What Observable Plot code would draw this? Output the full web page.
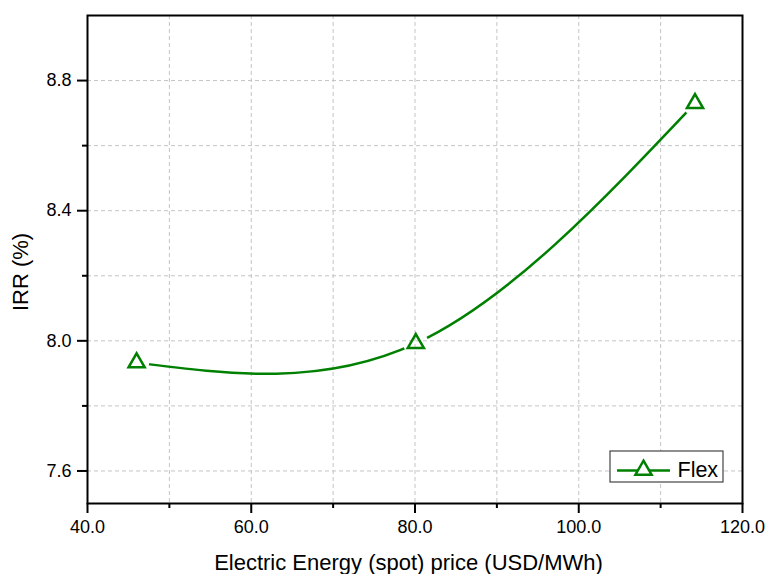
<!DOCTYPE html>
<html>
<head>
<meta charset="utf-8">
<script src="https://cdn.jsdelivr.net/npm/d3@7"></script>
<script src="https://cdn.jsdelivr.net/npm/@observablehq/plot@0.6"></script>
<style>
  html, body { margin: 0; padding: 0; background: #fff; }
  #chart { position: relative; width: 767px; height: 574px; }
</style>
</head>
<body>
<div id="chart"></div>
<script>
// ---- data ----
const seriesName = "Flex";
const price = [46.0, 80.1, 114.2];          // USD/MWh
const irr = [7.933, 7.992, 8.730];          // %

// ---- ticks ----
const xMajorTicks = [40, 60, 80, 100, 120];
const xMinorTicks = [50, 70, 90, 110];
const xGridTicks = [50, 60, 70, 80, 90, 100, 110];
const yMajorTicks = [7.6, 8.0, 8.4, 8.8];
const yMinorTicks = [7.8, 8.2, 8.6];
const yGridTicks = [7.6, 7.8, 8.0, 8.2, 8.4, 8.6, 8.8];

const xLabel = "Electric Energy (spot) price (USD/MWh)";
const yLabel = "IRR (%)";

const data = price.map((p, i) => ({price: p, irr: irr[i]}));

const green = "#008000";
const font = "'Liberation Sans', Arial, Helvetica, sans-serif";

const plot = Plot.plot({
  width: 767,
  height: 574,
  marginLeft: 87,
  marginRight: 25,
  marginTop: 15,
  marginBottom: 71,
  style: {fontFamily: font, fontSize: "18px", color: "#000", background: "#fff", overflow: "visible"},
  x: {domain: [40, 120]},
  y: {domain: [7.5, 9.0]},
  marks: [
    Plot.gridX(xGridTicks, {stroke: "#c4c4c4", strokeOpacity: 1, strokeWidth: 1, strokeDasharray: "4,3"}),
    Plot.gridY(yGridTicks, {stroke: "#c4c4c4", strokeOpacity: 1, strokeWidth: 1, strokeDasharray: "4,3"}),
    Plot.line(data, {x: "price", y: "irr", curve: "natural", stroke: green, strokeWidth: 2.5}),
    Plot.dot(data, {x: "price", y: "irr", symbol: "triangle", r: 6, stroke: green, strokeWidth: 2.5, fill: "none"}),
    Plot.frame({stroke: "#000", strokeWidth: 2}),
    Plot.axisX(xMajorTicks, {tickSize: 10, tickPadding: 7, strokeWidth: 2, fontSize: 18, tickFormat: d => d.toFixed(1), label: null}),
    Plot.axisX(xMinorTicks, {tickSize: 5, strokeWidth: 2, tickFormat: () => "", label: null}),
    Plot.axisY(yMajorTicks, {tickSize: 10, tickPadding: 6, strokeWidth: 2, fontSize: 18, tickFormat: d => d.toFixed(1), label: null}),
    Plot.axisY(yMinorTicks, {tickSize: 5, strokeWidth: 2, tickFormat: () => "", label: null})
  ]
});

document.getElementById("chart").appendChild(plot);

// scales from the plot
const sx = plot.scale("x"), sy = plot.scale("y");
const X = d3.scaleLinear(sx.domain, sx.range);
const Y = d3.scaleLinear(sy.domain, sy.range);

const svg = d3.select(plot);

// gap in the line around each marker (Origin style)
const defs = svg.insert("defs", ":first-child");
const mask = defs.append("mask").attr("id", "gapmask").attr("maskUnits", "userSpaceOnUse")
  .attr("x", 0).attr("y", 0).attr("width", 767).attr("height", 574);
mask.append("rect").attr("x", 0).attr("y", 0).attr("width", 767).attr("height", 574).attr("fill", "#fff");
mask.selectAll("circle").data(data).join("circle")
  .attr("cx", d => X(d.price)).attr("cy", d => Y(d.irr)).attr("r", 12.5).attr("fill", "#000");
const lineG = plot.querySelector('g[aria-label="line"]');
if (lineG) lineG.setAttribute("mask", "url(#gapmask)");

// axis titles
const frameLeft = sx.range[0], frameRight = sx.range[1];
const frameTop = sy.range[1], frameBottom = sy.range[0];
svg.append("text")
  .attr("x", (frameLeft + frameRight) / 2 - 6).attr("y", frameBottom + 67)
  .attr("text-anchor", "middle").attr("font-size", 22).attr("font-family", font).attr("fill", "#000")
  .text(xLabel);
svg.append("text")
  .attr("transform", `translate(${frameLeft - 59},${(frameTop + frameBottom) / 2 + 13}) rotate(-90)`)
  .attr("text-anchor", "middle").attr("font-size", 22).attr("font-family", font).attr("fill", "#000")
  .text(yLabel);

// legend
const lg = svg.append("g").attr("transform", `translate(${frameRight - 132},${frameBottom - 52})`);
lg.append("rect").attr("x", 0).attr("y", 0).attr("width", 113).attr("height", 31)
  .attr("fill", "#fff").attr("stroke", "#444").attr("stroke-width", 1.2);
lg.append("line").attr("x1", 7).attr("x2", 60).attr("y1", 19.5).attr("y2", 19.5)
  .attr("stroke", green).attr("stroke-width", 2.5);
lg.append("path").attr("d", d3.symbol(d3.symbolTriangle, 36 * Math.PI)())
  .attr("transform", "translate(33.5,19)")
  .attr("fill", "#fff").attr("stroke", green).attr("stroke-width", 2.5);
lg.append("text").attr("x", 67.5).attr("y", 26).attr("font-size", 21.5).attr("font-family", font)
  .attr("text-anchor", "start").attr("fill", "#000").text(seriesName);
</script>
</body>
</html>
